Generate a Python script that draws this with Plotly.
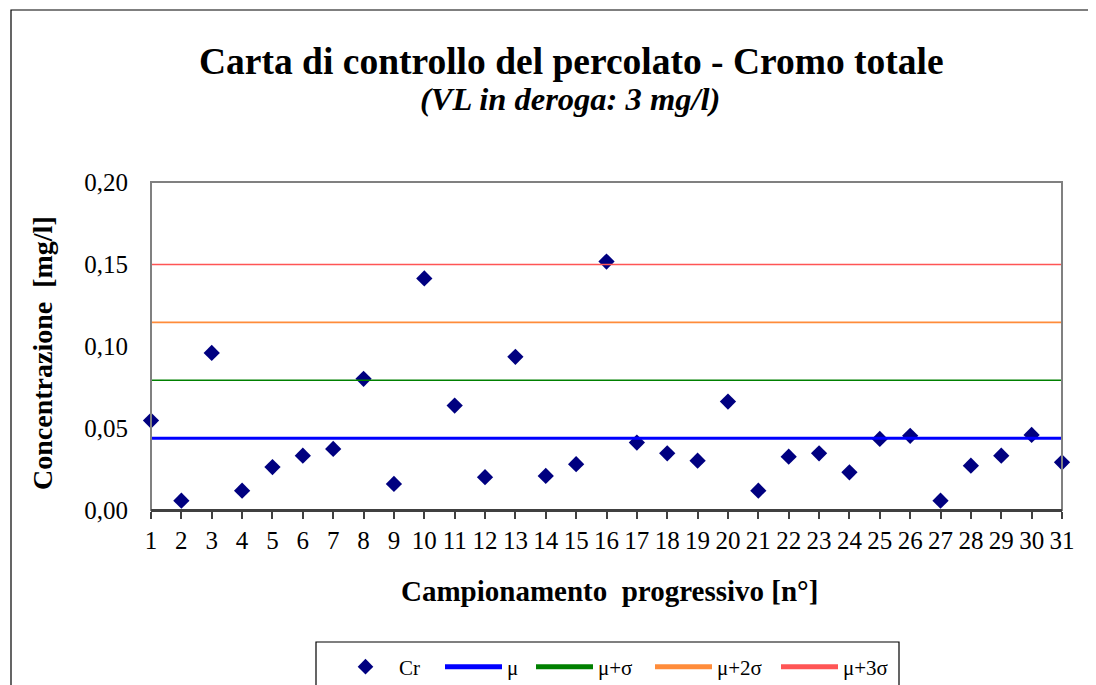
import plotly.graph_objects as go

# Data
samples = list(range(1, 32))
cr = [0.0545, 0.0057, 0.0958, 0.0118, 0.0262, 0.0331, 0.0372, 0.0800, 0.0159, 0.1412,
      0.0637, 0.0200, 0.0934, 0.0208, 0.0279, 0.1515, 0.0411, 0.0346, 0.0301, 0.0661,
      0.0118, 0.0325, 0.0346, 0.0230, 0.0433, 0.0452, 0.0057, 0.0270, 0.0331, 0.0458,
      0.0291]
limit_names = ["μ", "μ+σ", "μ+2σ", "μ+3σ"]
limit_values = [0.0438, 0.0791, 0.1144, 0.1497]
limit_colors = ["#0000FF", "#008000", "#FF8C3A", "#FF5555"]
limit_widths = [3, 1.6, 1.6, 1.6]
y_ticks = [0.0, 0.05, 0.10, 0.15, 0.20]

FONT = "Liberation Serif, Times New Roman, serif"

# page body has an 8px margin; work in page pixels and shift
OFF = 8
W, H = 1096 - OFF, 685 - OFF
L, R, T, B = 151 - OFF, 1062 - OFF, 182 - OFF, 510 - OFF
pw, ph = R - L, B - T

def px(xp):
    return (xp - OFF - L) / pw

def py(yp):
    return (B - (yp - OFF)) / ph

legend_ids = ["legend", "legend2", "legend3", "legend4", "legend5"]
legend_left = [332, 440, 531, 650, 776]

fig = go.Figure()
fig.add_trace(go.Scatter(
    x=samples, y=cr, mode="markers", name="Cr", legend=legend_ids[0],
    marker=dict(symbol="diamond", size=12.5, color="#000080"),
    cliponaxis=False))
for i, (nm, v, c, w) in enumerate(zip(limit_names, limit_values, limit_colors, limit_widths)):
    fig.add_trace(go.Scatter(
        x=[samples[0], samples[-1]], y=[v, v], mode="lines", name=nm,
        legend=legend_ids[i + 1],
        line=dict(color=c, width=w)))

legends = {}
for lid, lx in zip(legend_ids, legend_left):
    legends[lid] = dict(
        orientation="h", x=px(lx), xanchor="left", y=py(667), yanchor="middle",
        borderwidth=0, bgcolor="rgba(0,0,0,0)",
        font=dict(family=FONT, size=21, color="black"),
        itemwidth=57, itemsizing="constant")

fig.update_layout(
    width=W, height=H,
    margin=dict(l=L, r=W - R, t=T, b=H - B, autoexpand=False),
    paper_bgcolor="white", plot_bgcolor="white",
    separators=", ",
    font=dict(family=FONT, color="black", size=20),
    showlegend=True,
    xaxis=dict(
        range=[1, 31], tickmode="array", tickvals=samples,
        ticktext=[str(s) for s in samples],
        showgrid=False, zeroline=False,
        showline=True, linecolor="#404040", linewidth=2,
        ticks="outside", ticklen=7, tickcolor="#404040", tickwidth=1.5,
        tickfont=dict(family=FONT, size=25, color="black")),
    yaxis=dict(
        range=[0, 0.2], tickmode="array", tickvals=y_ticks,
        tickformat=".2f", showgrid=False, zeroline=False,
        showline=False, ticks="", ticklabelstandoff=22,
        tickfont=dict(family=FONT, size=25, color="black")),
    shapes=[
        dict(type="rect", xref="paper", yref="paper", x0=0, x1=1, y0=0, y1=1,
             line=dict(color="#808080", width=2), layer="above"),
        dict(type="line", xref="paper", yref="paper", x0=0, x1=1, y0=0, y1=0,
             line=dict(color="#404040", width=2), layer="above"),
        dict(type="rect", xref="paper", yref="paper",
             x0=px(11), x1=px(1110), y0=py(10), y1=py(700),
             line=dict(color="black", width=1.2), layer="below"),
        dict(type="rect", xref="paper", yref="paper",
             x0=px(316), x1=px(899), y0=py(642), y1=py(694),
             line=dict(color="black", width=1.2), layer="below"),
    ],
    annotations=[
        dict(text="<b>Carta di controllo del percolato - Cromo totale</b>",
             xref="paper", yref="paper", x=px(571), y=py(61),
             xanchor="center", yanchor="middle", showarrow=False,
             font=dict(family=FONT, size=37.5, color="black")),
        dict(text="<b><i>(VL in deroga: 3 mg/l)</i></b>",
             xref="paper", yref="paper", x=px(570), y=py(99),
             xanchor="center", yanchor="middle", showarrow=False,
             font=dict(family=FONT, size=32.5, color="black")),
        dict(text="<b>Concentrazione  [mg/l]</b>", textangle=-90,
             xref="paper", yref="paper", x=px(42), y=py(353),
             xanchor="center", yanchor="middle", showarrow=False,
             font=dict(family=FONT, size=28, color="black")),
        dict(text="<b>Campionamento  progressivo [n°]</b>",
             xref="paper", yref="paper", x=px(609), y=py(591),
             xanchor="center", yanchor="middle", showarrow=False,
             font=dict(family=FONT, size=29, color="black")),
    ],
    **legends,
)

fig.write_html("out.html")
